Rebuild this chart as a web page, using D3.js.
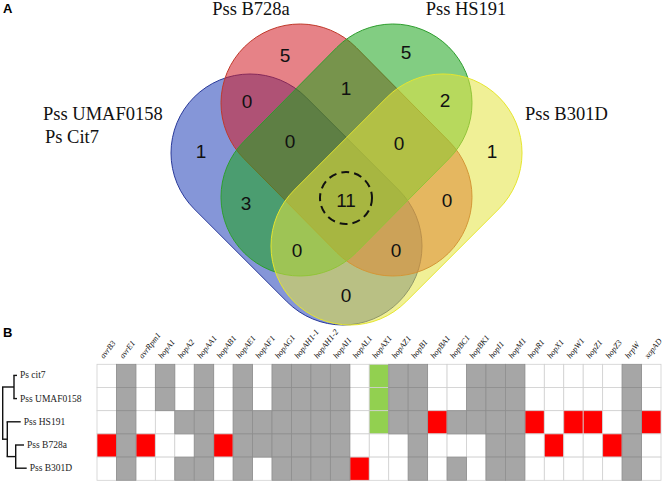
<!DOCTYPE html>
<html><head><meta charset="utf-8">
<script src="https://cdn.jsdelivr.net/npm/d3@7"></script>
<style>
html,body{margin:0;padding:0;background:#fff;}
svg{display:block;}
</style></head>
<body>
<svg id="chart" width="666" height="482"></svg>
<script>
// ---------------- DATA ----------------
// Venn sets (order = drawing order)
const setNames = ["Pss UMAF0158\nPs Cit7", "Pss B728a", "Pss HS191", "Pss B301D"];
const setKeys = ["U", "B", "H", "D"];
// region counts keyed by membership (U,B,H,D)
const regionSets = ["U","B","H","D","UB","BH","HD","UH","BD","UD","UBH","BHD","UHD","UBD","UBHD"];
const regionCounts = [1, 5, 5, 1, 0, 1, 2, 3, 0, 0, 0, 0, 0, 0, 11];
const highlightRegion = "UBHD";

// Effector table
const genes = ["avrB3","avrE1","avrRpm1","hopA1","hopA2","hopAA1","hopAB1","hopAE1","hopAF1","hopAG1",
  "hopAH1-1","hopAH1-2","hopAI1","hopAL1","hopAX1","hopAZ1","hopB1","hopBA1","hopBC1","hopBK1",
  "hopI1","hopM1","hopR1","hopX1","hopW1","hopZ1","hopZ3","hrpW","xopAD"];
const strains = ["Ps cit7","Pss UMAF0158","Pss HS191","Pss B728a","Pss B301D"];
// 0 = absent, 1 = present, 2 = strain-specific, 3 = shared by cit7/UMAF0158/HS191 only
const rowCit7    = [0,1,0,1,0,1,0,1,0,1,1,1,1,0,3,1,1,0,0,1,1,1,0,0,0,0,0,1,0];
const rowUMAF    = [0,1,0,1,0,1,0,1,0,1,1,1,1,0,3,1,1,0,0,1,1,1,0,0,0,0,0,1,0];
const rowHS191   = [0,1,0,0,1,1,0,1,1,1,1,1,1,0,3,1,1,2,1,1,1,1,2,0,2,2,0,1,2];
const rowB728a   = [2,1,2,0,0,1,2,1,1,1,1,1,1,0,0,0,1,0,0,0,1,1,0,2,0,0,2,1,0];
const rowB301D   = [0,1,0,0,1,1,0,1,0,1,1,1,1,2,0,0,1,0,1,0,1,1,0,0,0,0,0,1,0];
const matrix = [rowCit7, rowUMAF, rowHS191, rowB728a, rowB301D];

// Dendrogram (branch lengths)
const tree = {name:"root", len:0, children:[
  {name:"c1", len:11.3, children:[{name:"Ps cit7", len:3},{name:"Pss UMAF0158", len:3}]},
  {name:"c2", len:4.6, children:[
    {name:"Pss HS191", len:13.4},
    {name:"c3", len:8.4, children:[{name:"Pss B728a", len:8.3},{name:"Pss B301D", len:11}]}
  ]}
]};

// ---------------- STYLE / LAYOUT ----------------
const setFill = {U:"#2040b8", B:"#d21c25", H:"#1ca41c", D:"#e4e440"};
const setStroke = {U:"#2a3a9a", B:"#c0392b", H:"#2e9e2e", D:"#e6e62e"};
const fillOpacity = 0.55;
// capsule geometry in venn units (relative to venn centre), radius r
const vennCenter = [346.5, 197];
const capsule = {
  U: [[-96.5,-44],[-3.5,49]],
  B: [[-46.5,-94],[46.5,0]],
  H: [[46.5,-94],[-46.5,0]],
  D: [[96.5,-44],[3.5,49]]
};
const capR = 79;
// small label nudges relative to each region's computed pole
const labelNudge = {B:[-6,2], H:[4,-1], UH:[-4,-2], UBH:[5,-9], BHD:[3,5], BD:[4,-5]};
const setLabelPos = {U:[43,120,"start"], B:[251,15,"middle"], H:[466,15,"middle"], D:[525,120,"start"]};

const cellColor = {0:"#ffffff",1:"#a6a6a6",2:"#ff0000",3:"#92d050"};

const svg = d3.select("#chart");
const vx = d3.scaleLinear().domain([0,1]).range([vennCenter[0], vennCenter[0]+1]);
const vy = d3.scaleLinear().domain([0,1]).range([vennCenter[1], vennCenter[1]+1]);

// ---------------- PANEL A: VENN ----------------
svg.append("text").attr("x",3).attr("y",13).text("A")
  .attr("font-family","Liberation Sans, Arial, sans-serif").attr("font-weight","bold").attr("font-size",13);

function capsulePath(k){
  const [a,b] = capsule[k];
  const x1=vx(a[0]), y1=vy(a[1]), x2=vx(b[0]), y2=vy(b[1]);
  const ang = Math.atan2(y2-y1, x2-x1);
  const nx = -Math.sin(ang)*capR, ny = Math.cos(ang)*capR;
  const p = d3.path();
  p.moveTo(x1+nx, y1+ny);
  p.lineTo(x2+nx, y2+ny);
  p.arc(x2, y2, capR, ang+Math.PI/2, ang-Math.PI/2, true);
  p.lineTo(x1-nx, y1-ny);
  p.arc(x1, y1, capR, ang-Math.PI/2, ang+Math.PI/2, true);
  p.closePath();
  return p.toString();
}
const vg = svg.append("g");
vg.selectAll("path.set").data(setKeys).join("path")
  .attr("class","set")
  .attr("d", capsulePath)
  .attr("fill", k=>setFill[k]).attr("fill-opacity", fillOpacity)
  .attr("stroke", k=>setStroke[k]).attr("stroke-width",1);

// signed distance to capsule (px)
function sd(k, px, py){
  const [a,b] = capsule[k];
  const ax=vx(a[0]), ay=vy(a[1]), bx=vx(b[0]), by=vy(b[1]);
  const dx=bx-ax, dy=by-ay;
  let t=((px-ax)*dx+(py-ay)*dy)/(dx*dx+dy*dy); t=Math.max(0,Math.min(1,t));
  const qx=ax+t*dx, qy=ay+t*dy;
  return Math.hypot(px-qx, py-qy) - capR;
}
// pole of inaccessibility of each region
const best = {};
for(let px=150; px<=545; px+=1){
  for(let py=20; py<=330; py+=1){
    let key="", m=Infinity;
    setKeys.forEach(k=>{const d=sd(k,px,py); if(d<0) key+=k; m=Math.min(m,Math.abs(d));});
    if(!key) continue;
    if(!best[key] || m>best[key].m) best[key]={x:px,y:py,m:m};
  }
}
const regions = regionSets.map((s,i)=>{
  const p = best[s], n = labelNudge[s]||[0,0];
  return {key:s, count:regionCounts[i], pos: p ? {x:p.x+n[0], y:p.y+n[1]} : null};
});
vg.selectAll("text.count").data(regions.filter(r=>r.pos)).join("text")
  .attr("class","count")
  .attr("x", r=>r.pos.x).attr("y", r=>r.pos.y)
  .attr("text-anchor","middle").attr("dominant-baseline","central")
  .attr("font-family","Liberation Sans, Arial, sans-serif").attr("font-size",19)
  .attr("fill","#111")
  .text(r=>r.count);
const hl = regions.find(r=>r.key===highlightRegion);
vg.append("circle").attr("cx",hl.pos.x).attr("cy",hl.pos.y-2).attr("r",26)
  .attr("fill","none").attr("stroke","#111").attr("stroke-width",2).attr("stroke-dasharray","8,5");

setKeys.forEach((k,i)=>{
  const [x,y,anchor] = setLabelPos[k];
  const t = svg.append("text").attr("x",x).attr("y",y).attr("text-anchor",anchor)
    .attr("font-family","Liberation Serif, Times New Roman, serif").attr("font-size",18.5).attr("fill","#111");
  setNames[i].split("\n").forEach((line,j)=>{
    t.append("tspan").attr("x", x + (j>0?2:0)).attr("dy", j===0?0:23).text(line);
  });
});

// ---------------- PANEL B: TABLE ----------------
svg.append("text").attr("x",3).attr("y",337).text("B")
  .attr("font-family","Liberation Sans, Arial, sans-serif").attr("font-weight","bold").attr("font-size",13);

const x = d3.scaleBand().domain(genes).range([97, 661]);
const y = d3.scaleBand().domain(strains).range([364.3, 480.3]);

const cells = [];
strains.forEach((s,i)=>genes.forEach((g,j)=>cells.push({s,g,v:matrix[i][j]})));
const tg = svg.append("g");
// white/coloured cells first, gray cells on top for darker edges
tg.selectAll("rect.cell").data(cells.sort((a,b)=>(a.v===1)-(b.v===1))).join("rect")
  .attr("class","cell")
  .attr("x", d=>x(d.g)).attr("y", d=>y(d.s))
  .attr("width", x.bandwidth()).attr("height", y.bandwidth())
  .attr("fill", d=>cellColor[d.v])
  .attr("stroke", d=>d.v===1? "#8e8e8e" : "#d0d0d0")
  .attr("stroke-width", 0.8);

// gene labels
svg.append("g").selectAll("text").data(genes).join("text")
  .attr("transform", g=>`translate(${x(g)+x.bandwidth()/2-3},359) rotate(-52)`)
  .attr("font-family","Liberation Serif, Times New Roman, serif").attr("font-style","italic")
  .attr("font-size",8.2).attr("fill","#111")
  .text(g=>g);

// ---------------- DENDROGRAM ----------------
const root = d3.hierarchy(tree);
root.each(n=>{ n.dist = (n.parent? n.parent.dist:0) + n.data.len; });
const dx = d3.scaleLinear().domain([0,1]).range([2.7, 3.7]);
root.leaves().forEach(l=>{ l.py = y(l.data.name)+y.bandwidth()/2 - 0.5; });
root.eachAfter(n=>{ if(n.children) n.py = d3.mean([n.children[0].py, n.children[n.children.length-1].py]); });
const dg = svg.append("g").attr("fill","none").attr("stroke","#111").attr("stroke-width",1.4);
root.descendants().forEach(n=>{
  if(n.children){
    const ys = n.children.map(c=>c.py);
    dg.append("line").attr("x1",dx(n.dist)).attr("x2",dx(n.dist)).attr("y1",d3.min(ys)).attr("y2",d3.max(ys));
  }
  if(n.parent){
    dg.append("line").attr("x1",dx(n.parent.dist)-0.7).attr("x2",dx(n.dist)).attr("y1",n.py).attr("y2",n.py);
  }
});
svg.append("g").selectAll("text").data(root.leaves()).join("text")
  .attr("x", l=>dx(l.dist)+3).attr("y", l=>l.py).attr("dominant-baseline","central")
  .attr("font-family","Liberation Serif, Times New Roman, serif").attr("font-size",9.5).attr("fill","#222")
  .text(l=>l.data.name);
</script>
</body></html>
